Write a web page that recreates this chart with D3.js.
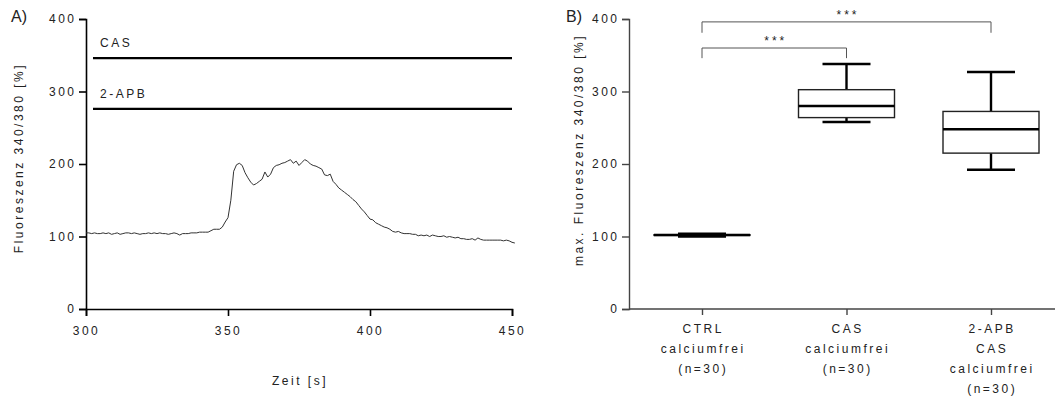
<!DOCTYPE html>
<html lang="de">
<head>
<meta charset="utf-8">
<script src="https://d3js.org/d3.v7.min.js"></script>
<style>
  body { margin: 0; background: #fff; }
  svg text { font-family: "Liberation Sans", Arial, sans-serif; fill: #222; }
  .lbl { font-size: 12px; letter-spacing: 2.5px; }
  .panel { font-size: 16px; }
</style>
</head>
<body>
<div id="chart"></div>
<script>
// Panel A: time trace (s, %)
const traceTime = d3.range(300, 452);
const traceValues = [
  105,105,104,105,104,104,105,104,105,103,104,105,103,104,105,105,104,105,104,103,
  104,104,105,104,105,104,105,104,104,103,104,105,104,102,104,104,104,105,105,105,
  106,106,106,106,108,110,110,110,113,120,126,150,190,199,201,198,188,181,175,171,
  173,176,179,189,182,186,195,198,199,201,202,204,206,201,204,198,202,206,204,200,
  198,197,195,193,185,184,186,176,172,167,164,161,158,155,151,148,143,138,134,129,
  124,123,119,117,115,113,112,110,107,106,107,105,104,104,104,103,103,101,102,101,
  102,100,102,101,100,100,101,99,100,99,98,99,97,97,96,96,97,95,98,96,
  95,95,95,95,95,95,95,94,95,94,92,91
];
const stimLabels = ["CAS", "2-APB"];
const stimLevels = [346, 276];
const traceYTicks = [0, 100, 200, 300, 400];
const traceXTicks = [300, 350, 400, 450];

// Panel B: box plots
const groups = ["CTRL", "CAS", "2-APB"];
const groupLabels = [
  ["CTRL", "calciumfrei", "(n=30)"],
  ["CAS", "calciumfrei", "(n=30)"],
  ["2-APB", "CAS", "calciumfrei", "(n=30)"]
];
const boxMin = [100, 258, 192];
const boxQ1 = [101.5, 264, 215];
const boxMedian = [102, 280, 248];
const boxQ3 = [102.5, 302.5, 272.5];
const boxMax = [104, 338, 327];
const sigPairs = [["CTRL", "CAS", 346, 360], ["CTRL", "2-APB", 381, 396]];

const svg = d3.select("#chart").append("svg")
  .attr("width", 1055).attr("height", 396);

// ---------- Panel A ----------
const xA = d3.scaleLinear().domain([300, 450]).range([86, 512]);
const yA = d3.scaleLinear().domain([0, 400]).range([309, 19]);

const axA_y = svg.append("g").attr("transform", "translate(86,0)")
  .call(d3.axisLeft(yA).tickValues(traceYTicks).tickSize(7).tickPadding(5));
const axA_x = svg.append("g").attr("transform", "translate(0,309)")
  .call(d3.axisBottom(xA).tickValues(traceXTicks).tickSize(7).tickPadding(10));
[axA_y, axA_x].forEach(a => {
  a.select(".domain").attr("stroke", "#000").attr("stroke-width", 1.6);
  a.selectAll(".tick line").attr("stroke", "#000").attr("stroke-width", 1.6);
  a.selectAll("text").attr("class", "lbl").attr("fill", "#222");
});
axA_y.selectAll("text").attr("dx", "2.5px");

svg.append("path")
  .datum(traceTime.map((t, i) => [t, traceValues[i]]))
  .attr("fill", "none").attr("stroke", "#333").attr("stroke-width", 1)
  .attr("d", d3.line().x(d => xA(d[0])).y(d => yA(d[1])));

stimLabels.forEach((s, i) => {
  svg.append("line")
    .attr("x1", 93).attr("x2", 512)
    .attr("y1", yA(stimLevels[i])).attr("y2", yA(stimLevels[i]))
    .attr("stroke", "#000").attr("stroke-width", 2.2);
  svg.append("text").attr("class", "lbl")
    .attr("x", 100).attr("y", yA(stimLevels[i]) - 11)
    .text(s);
});

svg.append("text").attr("class", "lbl")
  .attr("text-anchor", "middle")
  .attr("transform", "translate(23,158) rotate(-90)")
  .text("Fluoreszenz 340/380 [%]");
svg.append("text").attr("class", "lbl")
  .attr("text-anchor", "middle").attr("x", 300).attr("y", 385)
  .text("Zeit [s]");
svg.append("text").attr("class", "panel").attr("x", 11).attr("y", 22).text("A)");

// ---------- Panel B ----------
const xB = d3.scalePoint().domain(groups).range([702, 991]);
const yB = d3.scaleLinear().domain([0, 400]).range([309, 19]);

const axB_y = svg.append("g").attr("transform", "translate(629,0)")
  .call(d3.axisLeft(yB).tickValues(traceYTicks).tickSize(7).tickPadding(5));
axB_y.selectAll("text").attr("dx", "2.5px");
const axB_x = svg.append("g").attr("transform", "translate(0,309)")
  .call(d3.axisBottom(xB).tickSize(6).tickFormat(""));
axB_x.select(".domain").attr("d", "M629,0H1055");
[axB_y, axB_x].forEach(a => {
  a.select(".domain").attr("stroke", "#444").attr("stroke-width", 1.4);
  a.selectAll(".tick line").attr("stroke", "#444").attr("stroke-width", 1.4);
  a.selectAll("text").attr("class", "lbl").attr("fill", "#222");
});

groups.forEach((g, i) => {
  const cx = xB(g);
  const bw = 48, cw = 24;
  svg.append("line").attr("x1", cx).attr("x2", cx)
    .attr("y1", yB(boxMax[i])).attr("y2", yB(boxQ3[i]))
    .attr("stroke", "#000").attr("stroke-width", 2.4);
  svg.append("line").attr("x1", cx).attr("x2", cx)
    .attr("y1", yB(boxQ1[i])).attr("y2", yB(boxMin[i]))
    .attr("stroke", "#000").attr("stroke-width", 2.4);
  [boxMax[i], boxMin[i]].forEach(v => {
    svg.append("line").attr("x1", cx - cw).attr("x2", cx + cw)
      .attr("y1", yB(v)).attr("y2", yB(v))
      .attr("stroke", "#000").attr("stroke-width", 2.4);
  });
  svg.append("rect")
    .attr("x", cx - bw).attr("width", bw * 2)
    .attr("y", yB(boxQ3[i])).attr("height", yB(boxQ1[i]) - yB(boxQ3[i]))
    .attr("fill", "#fff").attr("stroke", "#222").attr("stroke-width", 1.4);
  svg.append("line").attr("x1", cx - bw).attr("x2", cx + bw)
    .attr("y1", yB(boxMedian[i])).attr("y2", yB(boxMedian[i]))
    .attr("stroke", "#000").attr("stroke-width", 2.4);

  const t = svg.append("text").attr("class", "lbl").attr("text-anchor", "middle");
  groupLabels[i].forEach((s, k) => {
    t.append("tspan").attr("x", cx + 1.2).attr("y", 333 + k * 20).text(s);
  });
});

sigPairs.forEach(p => {
  const x1 = xB(p[0]), x2 = xB(p[1]);
  const yb = yB(p[2]), yt = yB(p[3]);
  svg.append("path")
    .attr("d", `M${x1},${yb}V${yt}H${x2}V${yb}`)
    .attr("fill", "none").attr("stroke", "#555").attr("stroke-width", 1);
  svg.append("text").attr("class", "lbl")
    .style("letter-spacing", "3px")
    .attr("text-anchor", "middle").attr("x", (x1 + x2) / 2 + 1.5).attr("y", yt - 3)
    .text("***");
});

svg.append("text").attr("class", "lbl")
  .attr("text-anchor", "middle")
  .attr("transform", "translate(583,150) rotate(-90)")
  .text("max. Fluoreszenz 340/380 [%]");
svg.append("text").attr("class", "panel").attr("x", 566).attr("y", 22).text("B)");
</script>
</body>
</html>
